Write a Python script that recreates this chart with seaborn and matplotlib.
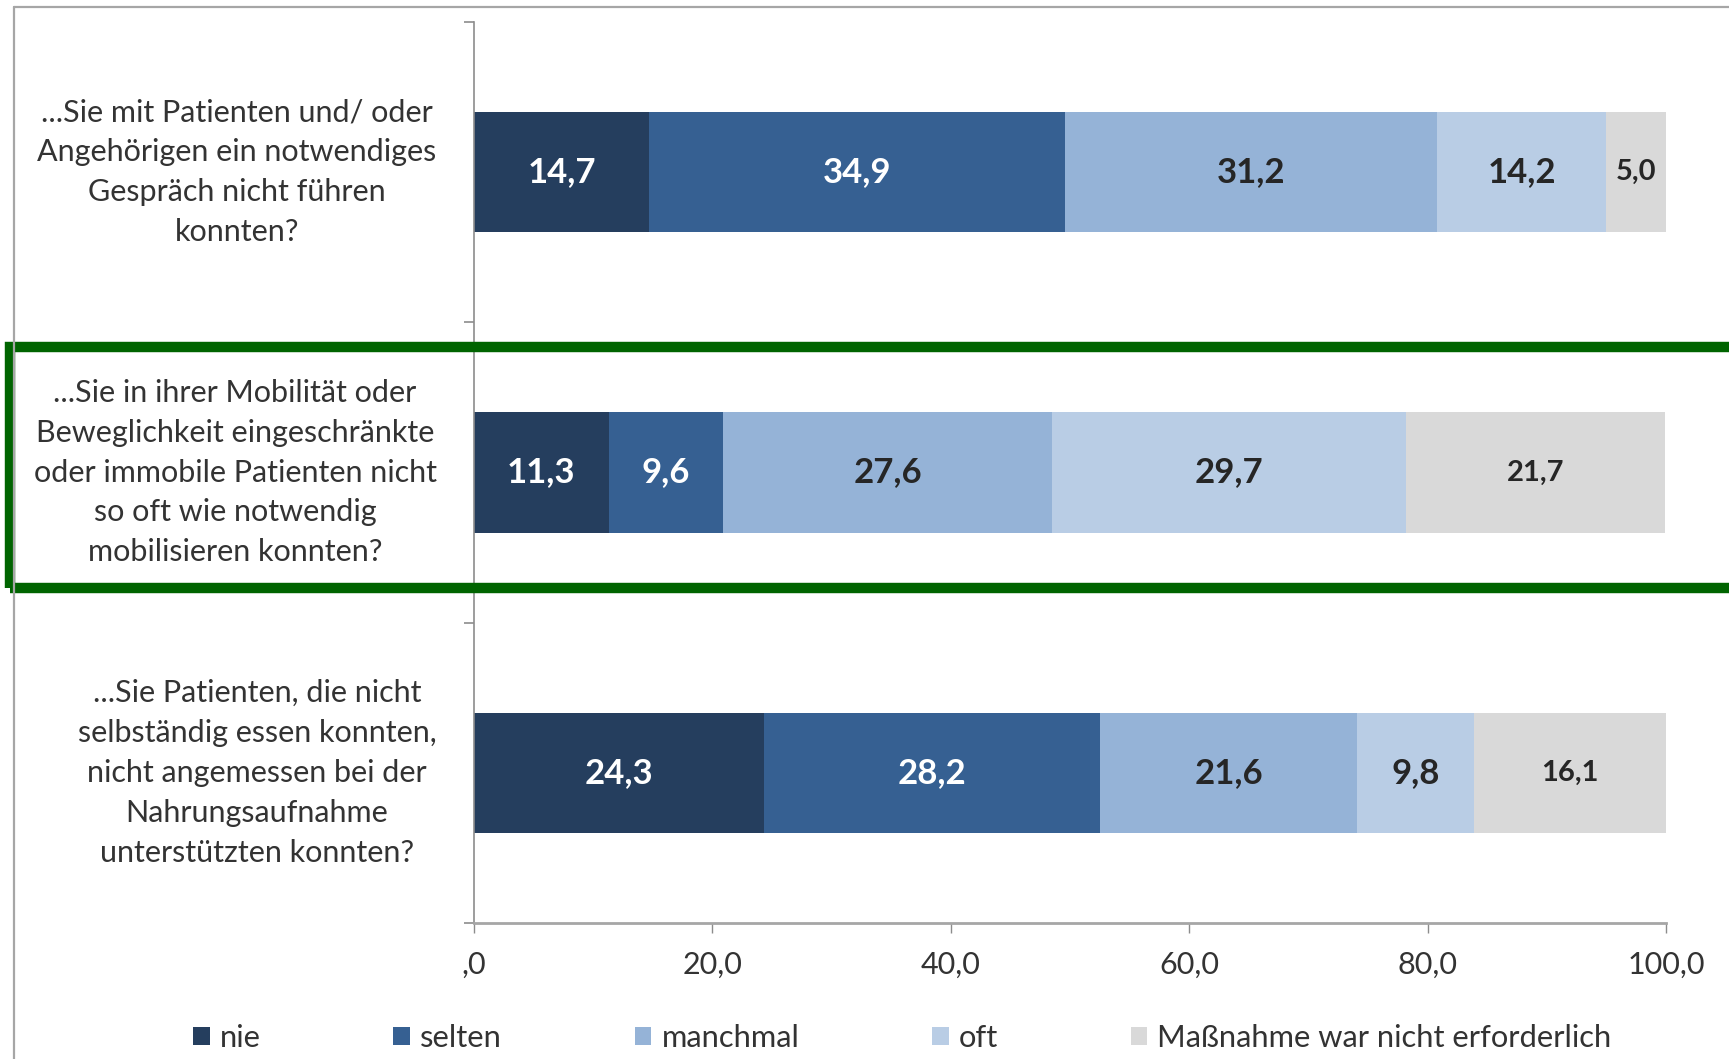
import matplotlib
matplotlib.use("Agg")
import matplotlib.pyplot as plt
import matplotlib.patches as mpatches
from matplotlib.lines import Line2D
import numpy as np
import seaborn as sns

# Survey items (y categories)
questions = [
    "...Sie mit Patienten und/ oder\nAngehörigen ein notwendiges\nGespräch nicht führen\nkonnten?",
    "...Sie in ihrer Mobilität oder\nBeweglichkeit eingeschränkte\noder immobile Patienten nicht\nso oft wie notwendig\nmobilisieren konnten?",
    "...Sie Patienten, die nicht\nselbständig essen konnten,\nnicht angemessen bei der\nNahrungsaufnahme\nunterstützten konnten?",
]

# Answer categories and their shares (percent)
answers = ["nie", "selten", "manchmal", "oft", "Maßnahme war nicht erforderlich"]
nie = [14.7, 11.3, 24.3]
selten = [34.9, 9.6, 28.2]
manchmal = [31.2, 27.6, 21.6]
oft = [14.2, 29.7, 9.8]
nicht_erforderlich = [5.0, 21.7, 16.1]

x_ticks = [0, 20, 40, 60, 80, 100]
x_tick_labels = [",0", "20,0", "40,0", "60,0", "80,0", "100,0"]

colors = ["#253E5E", "#366092", "#95B3D7", "#B9CDE5", "#D9D9D9"]
label_colors = ["white", "white", "#262626", "#262626", "#262626"]
label_sizes = [25, 25, 25, 25, 21]

sns.set_style("white")
plt.rcParams["font.family"] = ["Lato", "DejaVu Sans"]

W, H = 1729, 1059
fig = plt.figure(figsize=(W / 100, H / 100), dpi=100)
fig.patch.set_facecolor("white")

ax_left, ax_right, ax_top, ax_bottom = 474, 1666, 22, 923
ax = fig.add_axes([ax_left / W, 1 - ax_bottom / H,
                   (ax_right - ax_left) / W, (ax_bottom - ax_top) / H])

series = np.array([nie, selten, manchmal, oft, nicht_erforderlich])
cum = np.cumsum(series, axis=0)

# Stacked bars: draw cumulative totals from the longest down to the shortest
for i in reversed(range(len(answers))):
    sns.barplot(x=cum[i], y=questions, orient="h", color=colors[i],
                width=0.4, saturation=1, errorbar=None, linewidth=0, ax=ax)

# Value labels centred in each segment
for i in range(len(answers)):
    for j in range(len(questions)):
        v = series[i, j]
        ax.text(cum[i, j] - v / 2, j, f"{v:.1f}".replace(".", ","),
                ha="center", va="center", color=label_colors[i],
                fontsize=label_sizes[i], fontweight="bold")

ax.set_xlim(0, 100)
ax.set_ylim(2.5, -0.5)
ax.set_xlabel("")
ax.set_ylabel("")

ax.set_xticks(x_ticks)
ax.set_xticklabels(x_tick_labels, fontsize=22, color="#333333")
ax.tick_params(axis="x", which="major", direction="out", length=7,
               width=1, color="#8C8C8C", pad=13, bottom=True)

ax.set_yticks(range(len(questions)))
ax.set_yticklabels(questions, fontsize=22, color="#333333")
for t in ax.get_yticklabels():
    t.set_multialignment("center")
    t.set_linespacing(1.52)
    t.set_verticalalignment("center")
ax.tick_params(axis="y", which="major", length=0, pad=27)
ax.set_yticks([-0.5, 0.5, 1.5, 2.5], minor=True)
ax.tick_params(axis="y", which="minor", direction="out", length=7,
               width=1.2, color="#8C8C8C", left=True)

for side in ["top", "right"]:
    ax.spines[side].set_visible(False)
ax.spines["left"].set_color("#8C8C8C")
ax.spines["left"].set_linewidth(1.2)
ax.spines["bottom"].set_color("#A6A6A6")
ax.spines["bottom"].set_linewidth(2.0)
ax.grid(False)

# Legend
handles = [mpatches.Patch(facecolor=c, edgecolor="none", label=a)
           for c, a in zip(colors, answers)]
fig.legend(handles=handles, loc="center left",
           bbox_to_anchor=(193 / W, 1 - 1038 / H), ncol=5, frameon=False,
           fontsize=22.2, handlelength=0.54, handleheight=0.54,
           handletextpad=0.33, columnspacing=4.3, borderpad=0,
           borderaxespad=0, labelcolor="#333333")

# Outer frame (top and left edges)
fig.add_artist(Line2D([14 / W, 1.0], [1 - 7 / H, 1 - 7 / H],
                      transform=fig.transFigure, color="#A6A6A6", lw=1.6))
fig.add_artist(Line2D([14 / W, 14 / W], [1 - 7 / H, 0.0],
                      transform=fig.transFigure, color="#A6A6A6", lw=1.6))

# Highlight box around the second item
fig.add_artist(mpatches.Rectangle((10 / W, 1 - 588 / H), 1.2, 241 / H,
                                  transform=fig.transFigure, fill=False,
                                  edgecolor="#006400", lw=7.5))

fig.savefig("out.png", dpi=100)
